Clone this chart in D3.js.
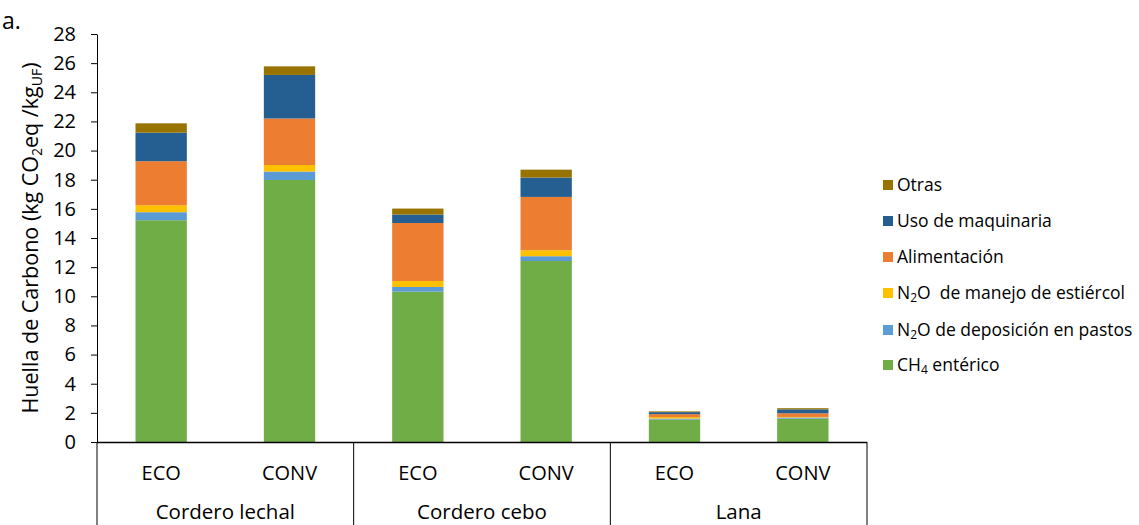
<!DOCTYPE html>
<html>
<head>
<meta charset="utf-8">
<script src="https://cdn.jsdelivr.net/npm/d3@7"></script>
<style>
  body { margin: 0; background: #fff; }
  svg { display: block; font-family: "Open Sans", sans-serif; }
</style>
</head>
<body>
<svg id="chart" width="1139" height="525"></svg>
<script>
// ---- data ----
const groups = ["Cordero lechal", "Cordero cebo", "Lana"];
const systems = ["ECO", "CONV"];
const yTicks = [0, 2, 4, 6, 8, 10, 12, 14, 16, 18, 20, 22, 24, 26, 28];
// order: lechal ECO, lechal CONV, cebo ECO, cebo CONV, lana ECO, lana CONV
const ch4Enterico   = [15.22, 17.98, 10.32, 12.42, 1.54, 1.60];
const n2oDeposicion = [0.55, 0.58, 0.32, 0.33, 0.07, 0.08];
const n2oManejo     = [0.48, 0.45, 0.41, 0.41, 0.10, 0.04];
const alimentacion  = [3.02, 3.19, 3.98, 3.66, 0.20, 0.25];
const maquinaria    = [1.96, 2.99, 0.58, 1.33, 0.14, 0.27];
const otras         = [0.64, 0.59, 0.41, 0.54, 0.05, 0.08];

const seriesKeys = ["ch4", "dep", "man", "ali", "maq", "otr"];
const seriesValues = [ch4Enterico, n2oDeposicion, n2oManejo, alimentacion, maquinaria, otras];
const colors = ["#70AD47", "#5B9BD5", "#FFC000", "#ED7D31", "#255E91", "#997300"];

// ---- layout ----
const svg = d3.select("#chart");
const pLeft = 97, pRight = 867, pTop = 34, pBottom = 442;

const rows = [];
groups.forEach((g, gi) => systems.forEach((s, si) => {
  const row = { group: g, system: s };
  seriesKeys.forEach((k, ki) => row[k] = seriesValues[ki][gi * 2 + si]);
  rows.push(row);
}));

const stacked = d3.stack().keys(seriesKeys)(rows);

const x0 = d3.scaleBand().domain(groups).range([pLeft, pRight]).padding(0);
const x1 = d3.scaleBand().domain(systems).range([0, x0.bandwidth()])
  .paddingInner(0.6).paddingOuter(0.3);
const y = d3.scaleLinear().domain([0, 28]).range([pBottom, pTop]);

// bars
svg.append("g").selectAll("g").data(stacked).join("g")
  .attr("fill", (d, i) => colors[i])
  .selectAll("rect").data(d => d).join("rect")
  .attr("x", d => x0(d.data.group) + x1(d.data.system))
  .attr("width", x1.bandwidth())
  .attr("y", d => y(d[1]))
  .attr("height", d => y(d[0]) - y(d[1]));

// y axis
const yAxis = svg.append("g").attr("transform", `translate(${pLeft},0)`)
  .call(d3.axisLeft(y).tickValues(yTicks).tickSize(6).tickPadding(15).tickSizeOuter(0));
yAxis.select(".domain").attr("stroke", "#000").attr("stroke-width", 1);
yAxis.selectAll(".tick line").attr("stroke", "#000");
yAxis.selectAll(".tick text").attr("font-size", 20).attr("fill", "#000")
  .attr("font-family", "'Open Sans', sans-serif");

// vertical axis extension below
svg.append("line").attr("x1", pLeft).attr("x2", pLeft).attr("y1", pBottom).attr("y2", 525)
  .attr("stroke", "#000");

// x axis line
svg.append("line").attr("x1", pLeft).attr("x2", pRight).attr("y1", pBottom + 0.5).attr("y2", pBottom + 0.5)
  .attr("stroke", "#000").attr("stroke-width", 1.5);

// group separators
groups.forEach(g => {
  const xe = x0(g) + x0.bandwidth();
  svg.append("line").attr("x1", xe).attr("x2", xe).attr("y1", pBottom).attr("y2", 525)
    .attr("stroke", "#000");
});

// system labels
rows.forEach(r => {
  svg.append("text")
    .attr("x", x0(r.group) + x1(r.system) + x1.bandwidth() / 2)
    .attr("y", 480)
    .attr("text-anchor", "middle")
    .attr("font-size", 20)
    .text(r.system);
});
// group labels
groups.forEach(g => {
  svg.append("text")
    .attr("x", x0(g) + x0.bandwidth() / 2)
    .attr("y", 519)
    .attr("text-anchor", "middle")
    .attr("font-size", 20.5)
    .text(g);
});

// y title
const yt = svg.append("text")
  .attr("transform", "translate(38,238) rotate(-90)")
  .attr("text-anchor", "middle")
  .attr("font-size", 21.5);
yt.append("tspan").text("Huella de Carbono (kg CO");
yt.append("tspan").attr("font-size", 14).attr("dy", 4).text("2");
yt.append("tspan").attr("dy", -4).text("eq /kg");
yt.append("tspan").attr("font-size", 14).attr("dy", 4).text("UF");
yt.append("tspan").attr("dy", -4).text(")");

// "a."
svg.append("text").attr("x", 2).attr("y", 29).attr("font-size", 23).text("a.");

// legend
const legendItems = [
  { i: 5, parts: [["Otras"]] },
  { i: 4, parts: [["Uso de maquinaria"]] },
  { i: 3, parts: [["Alimentación"]] },
  { i: 2, parts: [["N"], ["2", true], ["O  de manejo de estiércol"]] },
  { i: 1, parts: [["N"], ["2", true], ["O de deposición en pastos"]] },
  { i: 0, parts: [["CH"], ["4", true], [" entérico"]] }
];
const legendY = [185, 221, 257, 293, 330, 365];
legendItems.forEach((it, k) => {
  const cy = legendY[k];
  svg.append("rect").attr("x", 883).attr("y", cy - 5).attr("width", 10).attr("height", 10)
    .attr("fill", colors[it.i]);
  const t = svg.append("text").attr("x", 897).attr("y", cy + 6).attr("font-size", 17.5)
    .attr("xml:space", "preserve");
  let sub = false;
  it.parts.forEach(p => {
    const ts = t.append("tspan").text(p[0]);
    if (p[1]) { ts.attr("font-size", 12).attr("dy", 3); sub = true; }
    else if (sub) { ts.attr("dy", -3); sub = false; }
  });
});
</script>
</body>
</html>
